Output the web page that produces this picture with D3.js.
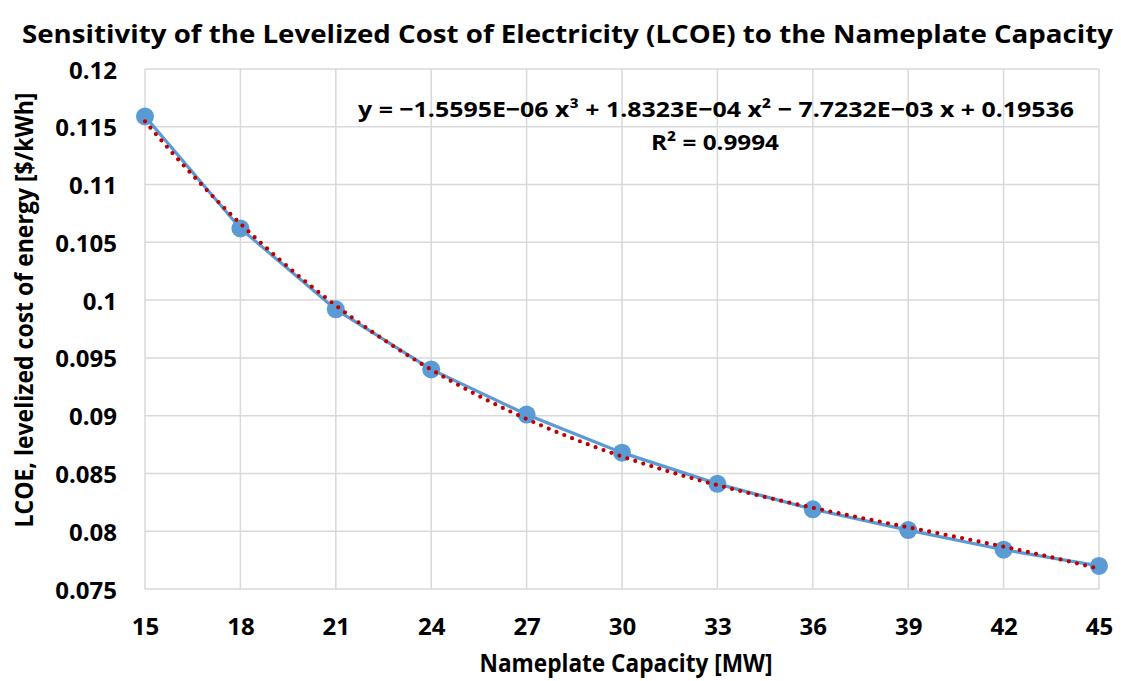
<!DOCTYPE html>
<html><head><meta charset="utf-8">
<script src="https://cdn.jsdelivr.net/npm/d3@7"></script>
<style>
body{margin:0;background:#fff;}
text{font-family:"Open Sans",Lato,sans-serif;font-weight:bold;fill:#000;}
</style></head>
<body><svg id="chart" width="1121" height="681"></svg>
<script>
const capacities = [15, 18, 21, 24, 27, 30, 33, 36, 39, 42, 45];
const lcoe = [0.1159, 0.1062, 0.0992, 0.0940, 0.0901, 0.0868, 0.0841, 0.0819, 0.0801, 0.0784, 0.0770];
const xTicks = [15, 18, 21, 24, 27, 30, 33, 36, 39, 42, 45];
const yTicks = [0.075, 0.08, 0.085, 0.09, 0.095, 0.1, 0.105, 0.11, 0.115, 0.12];
const trendCoefficients = [-1.5595e-06, 1.8323e-04, -7.7232e-03, 0.19536]; // x^3, x^2, x, 1
const titleText = "Sensitivity of the Levelized Cost of Electricity (LCOE) to the Nameplate Capacity";
const xTitle = "Nameplate Capacity [MW]";
const yTitle = "LCOE, levelized cost of energy [$/kWh]";
const eqText = "y = \u22121.5595E\u221206 x\u00b3 + 1.8323E\u221204 x\u00b2 \u2212 7.7232E\u221203 x + 0.19536";
const r2Text = "R\u00b2 = 0.9994";

const svg = d3.select("#chart");
const m = {left:145, right:1099, top:69, bottom:589};
const x = d3.scaleLinear().domain([15,45]).range([m.left, m.right]);
const y = d3.scaleLinear().domain([0.075,0.12]).range([m.bottom, m.top]);

// grid
const g = svg.append("g");
g.selectAll(".vg").data(xTicks).join("line")
  .attr("x1", d=>x(d)).attr("x2", d=>x(d)).attr("y1", m.top).attr("y2", m.bottom)
  .attr("stroke", "#d9d9d9").attr("stroke-width", 1.5);
g.selectAll(".hg").data(yTicks).join("line")
  .attr("x1", m.left).attr("x2", m.right).attr("y1", d=>y(d)).attr("y2", d=>y(d))
  .attr("stroke", "#d9d9d9").attr("stroke-width", 1.5);

// axes labels via d3 axes
const xAxis = svg.append("g").attr("transform", `translate(0,${m.bottom})`)
  .call(d3.axisBottom(x).tickValues(xTicks).tickSize(0).tickPadding(0).tickFormat(d3.format("d")));
xAxis.select(".domain").remove();
xAxis.selectAll("text").attr("y", 46).attr("dy", null)
  .style("font-size","24px").style("font-family","'Open Sans'").style("font-weight","bold");

const yAxis = svg.append("g").attr("transform", `translate(${m.left},0)`)
  .call(d3.axisLeft(y).tickValues(yTicks).tickSize(0).tickPadding(0).tickFormat(d=>String(+d.toFixed(3))));
yAxis.select(".domain").remove();
yAxis.selectAll("text").attr("x", -28).attr("dy", "9px")
  .style("font-size","24px").style("font-family","'Open Sans'").style("font-weight","bold");

// data line
const pts = capacities.map((c,i)=>[c, lcoe[i]]);
svg.append("path").datum(pts)
  .attr("d", d3.line().x(d=>x(d[0])).y(d=>y(d[1])))
  .attr("fill","none").attr("stroke","#5b9bd5").attr("stroke-width",3.2);
svg.selectAll(".pt").data(pts).join("circle")
  .attr("cx", d=>x(d[0])).attr("cy", d=>y(d[1])).attr("r", 9).attr("fill","#5b9bd5");

// trendline
const poly = xv => trendCoefficients.reduce((acc,c)=>acc*xv + c, 0);
const trendPts = d3.range(0, 301).map(i => { const xv = 15 + i*0.1; return [xv, poly(xv)]; });
svg.append("path").datum(trendPts)
  .attr("d", d3.line().x(d=>x(d[0])).y(d=>y(d[1])))
  .attr("fill","none").attr("stroke","#c00000").attr("stroke-width",4.2)
  .attr("stroke-linecap","round").attr("stroke-dasharray","0,8.4");

// title
svg.append("text").attr("x", 567.5).attr("y", 43).attr("text-anchor","middle")
  .attr("textLength", 1091).attr("lengthAdjust","spacingAndGlyphs")
  .style("font-size","25px").text(titleText);
svg.append("text").attr("x", 626).attr("y", 672).attr("text-anchor","middle")
  .attr("textLength", 293).attr("lengthAdjust","spacingAndGlyphs")
  .style("font-size","25px").text(xTitle);
svg.append("text").attr("transform", `translate(33,310) rotate(-90)`)
  .attr("text-anchor","middle")
  .attr("textLength", 435).attr("lengthAdjust","spacingAndGlyphs")
  .style("font-size","25px").text(yTitle);

// equation
svg.append("text").attr("x", 716).attr("y", 117).attr("text-anchor","middle")
  .attr("textLength", 716).attr("lengthAdjust","spacingAndGlyphs")
  .style("font-size","22px").text(eqText);
svg.append("text").attr("x", 715).attr("y", 150).attr("text-anchor","middle")
  .attr("textLength", 128).attr("lengthAdjust","spacingAndGlyphs")
  .style("font-size","22px").text(r2Text);
</script></body></html>
